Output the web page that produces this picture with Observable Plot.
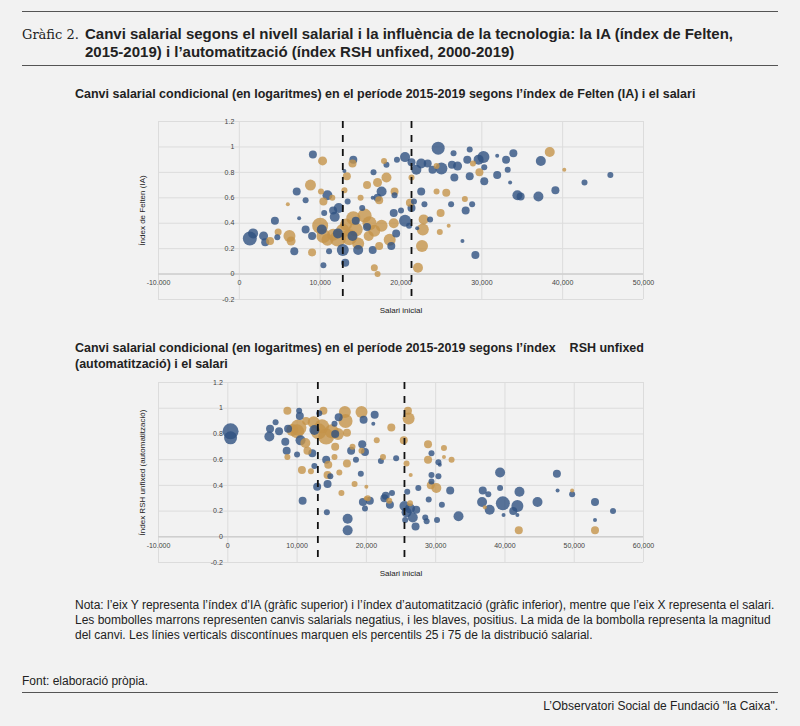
<!DOCTYPE html>
<html><head><meta charset="utf-8">
<script src="https://cdn.jsdelivr.net/npm/d3@7"></script>
<script src="https://cdn.jsdelivr.net/npm/@observablehq/plot@0.6"></script>
<style>
body{margin:0;background:#f2f2f2;font-family:"Liberation Sans",Arial,sans-serif;color:#222;}
#page{position:relative;width:800px;height:726px;}
.abs{position:absolute;}
.rule{position:absolute;left:22px;width:756px;height:0;border-top:1.5px solid #555;}
.sub{font-weight:bold;font-size:12.5px;}
</style></head><body><div id="page">
<div class="rule" style="top:11px"></div>
<div class="abs" style="left:22px;top:27px;font-family:'DejaVu Serif',serif;font-size:13px;">Gràfic 2.</div>
<div class="abs" style="left:85px;top:25px;font-weight:bold;font-size:15px;line-height:18px;width:690px;">Canvi salarial segons el nivell salarial i la influència de la tecnologia: la IA (índex de Felten, 2015-2019) i l’automatització (índex RSH unfixed, 2000-2019)</div>
<div class="rule" style="top:65px"></div>
<div class="abs sub" style="left:75px;top:87px;">Canvi salarial condicional (en logaritmes) en el període 2015-2019 segons l’índex de Felten (IA) i el salari</div>
<div class="abs sub" style="left:75px;top:340px;line-height:16px;width:620px;">Canvi salarial condicional (en logaritmes) en el període 2015-2019 segons l’índex &nbsp;&nbsp;&nbsp;RSH unfixed (automatització) i el salari</div>
<div id="c1" class="abs" style="left:0;top:110px;"></div>
<div id="c2" class="abs" style="left:0;top:371px;"></div>
<div class="abs" style="left:75px;top:598px;font-size:12px;line-height:15px;width:700px;">Nota: l’eix Y representa l’índex d’IA (gràfic superior) i l’índex d’automatització (gràfic inferior), mentre que l’eix X representa el salari. Les bombolles marrons representen canvis salarials negatius, i les blaves, positius. La mida de la bombolla representa la magnitud del canvi. Les línies verticals discontínues marquen els percentils 25 i 75 de la distribució salarial.</div>
<div class="abs" style="left:22px;top:674px;font-size:12px;">Font: elaboració pròpia.</div>
<div class="rule" style="top:692px"></div>
<div class="abs" style="right:22px;top:699px;font-size:12px;">L’Observatori Social de Fundació "la Caixa".</div>
</div>
<script>
// Chart 1: Felten (IA). salary in thousands, index, bubble size, sign (1 positive/blue, -1 negative/gold)
const ia_blue_x=[1.3,1.7,3,3.2,4.4,4.7,6.8,7.1,7.4,8.2,8.2,9,9.1,10.4,10.5,10.9,11.1,11.6,11.8,12.3,12.8,13.1,13.0,13.4,14.1,14.4,14.7,15.2,16.5,16.6,16.5,17.1,17.6,18.2,19.1,19.4,19.2,19.5,20.0,20.5,20.5,21.0,21.3,21.3,21.6,21.9,22,22.5,22.5,22.9,23.3,23.6,23.9,24.6,25.0,26.2,26.3,26.5,26.6,27.0,27.6,28.0,28.2,28.5,28.5,28.8,29.2,29.6,30.2,30.3,30.3,31.9,31.9,33.0,33.2,33.5,33.9,34.4,34.8,37.0,37.3,39.1,42.7,45.9,12.2,14.0,10.2,18.8,15.8];
const ia_blue_y=[0.28,0.32,0.3,0.25,0.42,0.29,0.18,0.65,0.44,0.35,0.58,0.3,0.94,0.07,0.48,0.62,0.18,0.5,0.45,0.52,0.19,0.09,0.81,0.57,0.9,0.42,0.19,0.52,0.19,0.8,0.6,0.6,0.65,0.86,0.48,0.32,0.62,0.9,0.5,0.42,0.92,0.38,0.52,0.88,0.57,0.82,0.36,0.65,0.87,0.55,0.87,0.43,0.82,0.99,0.83,0.55,0.86,0.95,0.76,0.85,0.26,0.5,0.9,0.98,0.77,0.55,0.15,0.9,0.92,0.73,0.84,0.78,0.93,0.9,0.82,0.72,0.95,0.62,0.61,0.61,0.89,0.66,0.72,0.78,0.32,0.3,0.35,0.22,0.37];
const ia_blue_r=[7,5,4.5,4,4,3,4,4,2,4,3,4,4,3,3,5,3,4,5,5,6,4,2,3,4,4,5,3,4,3,2,4,5,3,4,4,3,3,3,6,5,3,4,4,3,5,2,4,5,3,4,3,4,6.5,6,3,4,3,4,4.5,2,4,4,3,4,3,4,5,6,4,3,4,2,4,3,2,4,5,4,5,5,4,3,3,5,5,5,4,4];
const ia_gold_x=[3.8,4.8,6.2,6.4,6.0,8.8,9.0,10.3,10.0,10.4,10.1,10.4,10.9,11.6,12.2,12.8,13.3,13.0,13.6,14.1,14.4,14.0,14.7,15.5,15.8,16.1,16.7,16.7,17.1,17.3,17.3,17.1,17.6,17.9,18.2,18.6,19.2,19.1,21.1,21.3,22.1,22.6,22.7,22.8,24.4,24.4,24.9,24.8,25.6,25.9,27.9,28.9,29.7,38.4,40.2,15,13.2,16.0,11.5];
const ia_gold_y=[0.26,0.33,0.3,0.26,0.55,0.7,0.17,0.89,0.38,0.3,0.65,0.57,0.27,0.31,0.28,0.34,0.77,0.66,0.29,0.44,0.35,0.87,0.24,0.46,0.7,0.4,0.34,0.05,0.0,0.22,0.58,0.72,0.38,0.89,0.76,0.27,0.65,0.4,0.56,0.76,0.05,0.22,0.35,0.43,0.85,0.65,0.48,0.33,0.64,0.38,0.59,0.87,0.8,0.96,0.82,0.6,0.39,0.3,0.6];
const ia_gold_r=[4,3.5,6,4.5,2,5.5,4,4.5,8,7,3,4,6,6,8,7,4,3,8,7,7,4,6,7,4,7,6,3.5,3,4,4,4.5,6,3,5,6,4,5,4,3,5,6,6,5,3,3,4,3,4,2,3,3,4,5,2,3,6,5,3];
// Chart 2: RSH unfixed (automatització)
const rsh_blue_x=[0.4,0.4,6.1,6.0,6.9,7.4,8.3,8.5,8.7,10.3,10.4,10.5,10.8,10.0,12.2,12.5,12.5,12.9,13.2,14.2,14.3,14.4,14.8,15.4,15.5,16.0,17.3,17.3,17.8,18.5,19.2,19.4,19.5,19.8,19.8,19.6,20.5,21.2,22.1,22.6,22.8,23.4,23.7,24.3,25.5,25.8,25.6,25.9,26.3,26.7,27.1,27.2,27.5,28.5,28.7,29.0,29.4,29.4,29.4,30.4,30.4,30.2,30.6,30.9,32.1,33.3,36.8,36.7,37.6,37.8,39.3,39.3,39.8,39.7,41.2,41.8,41.8,42.1,44.7,47.5,47.6,49.7,53.0,53.0,55.6,21.0];
const rsh_blue_y=[0.82,0.77,0.84,0.78,0.89,0.82,0.74,0.67,0.84,0.98,0.94,0.75,0.28,0.64,0.65,0.55,0.83,0.39,0.96,0.6,0.19,0.41,0.47,0.88,0.8,0.93,0.14,0.05,0.67,0.6,0.49,0.72,0.27,0.22,0.66,0.91,0.28,0.95,0.59,0.3,0.32,0.25,0.34,0.61,0.24,0.19,0.13,0.35,0.22,0.15,0.08,0.21,0.38,0.15,0.12,0.29,0.65,0.48,0.43,0.58,0.47,0.13,0.56,0.25,0.36,0.16,0.36,0.27,0.33,0.21,0.5,0.38,0.17,0.26,0.2,0.24,0.17,0.35,0.27,0.49,0.36,0.33,0.27,0.13,0.2,0.88];
const rsh_blue_r=[8,6.5,4,5,3,4,4,4,4,3,4,5,4,3,4,3,5,4,3,4,3,4,3,3,4,4,5,5,4,3,3,4,4,3,4,4,4,4,3,4,4,4,3,3,5,5,3,3,5,5,4,4,3,3,3,3,3,3,3,3,3,3,2,3,4,5,4,5,3,5,5,3,2,7,4,6,2,5,5,4,2,3,4,2,3,2];
const rsh_gold_x=[8.6,8.6,9.3,10.0,10.2,10.7,11.2,11.5,12.4,12.0,13.1,13.6,13.8,14.2,14.4,14.5,15.0,15.4,15.9,16.1,16.4,16.9,17.0,17.2,17.2,18.0,18.3,19.3,19.3,20.0,19.9,20.2,21.5,22.4,23.3,23.6,25.4,26.0,26.1,25.8,26.4,26.3,28.9,28.9,29.3,30.1,31.2,31.2,32.3,42.0,53.0,49.7,37.1,15.5,11.3];
const rsh_gold_y=[0.98,0.62,0.83,0.82,0.85,0.52,0.73,0.67,0.89,0.51,0.82,0.86,0.98,0.78,0.48,0.56,0.82,0.62,0.8,0.5,0.34,0.97,0.9,0.81,0.57,0.7,0.41,0.97,0.67,0.39,0.3,0.3,0.75,0.62,0.28,0.85,0.75,0.98,0.92,0.57,0.48,0.26,0.72,0.6,0.4,0.38,0.69,0.62,0.6,0.05,0.05,0.36,0.23,0.7,0.9];
const rsh_gold_r=[4,3,6,7,8,4,5,4,6,3,8,7,4,8,4,4,7,3,6,3,3,6,7,4,4,3,3,6,3,2,2,3,3,3,3,4,4,4,6,3,2,3,4,4,4,5,3,2,3,4,4,2,2,4,4];
const dashed1=[12.8,21.3], dashed2=[13.0,25.5];
const yTicks=[-0.2,0,0.2,0.4,0.6,0.8,1,1.2];
const xTicks1=[-10,0,10,20,30,40,50], xTicks2=[-10,0,10,20,30,40,50,60];

function rows(xs,ys,rs,sign){return xs.map((x,i)=>({x:x*1000,y:ys[i],r:rs[i],sign}));}
const fmtX=v=>v===-10?"-10.000":v===0?"0":v+",000";
const fmtY=v=>v===0?"0":String(v);

function chart(data,xTicks,xmax,dashed,ylab,H,mt,mb){
  const blue="#2f5181", gold="#c4944a";
  return Plot.plot({
    width:800,height:H,marginLeft:158,marginRight:157,marginTop:mt,marginBottom:mb,
    style:{background:"transparent",fontFamily:"Liberation Sans, Arial, sans-serif",overflow:"visible"},
    x:{domain:[-10000,xmax*1000],axis:null},
    y:{domain:[-0.2,1.2],axis:null},
    r:{type:"identity"},
    marks:[
      Plot.gridX(xTicks.map(d=>d*1000),{stroke:"#dcdcdc",strokeOpacity:1}),
      Plot.gridY(yTicks,{stroke:"#dcdcdc",strokeOpacity:1}),
      Plot.ruleY([0],{stroke:"#cfcfcf",strokeWidth:1.5}),
      Plot.dot(data,{x:"x",y:"y",r:"r",fill:d=>d.sign>0?blue:gold,fillOpacity:0.8,stroke:"none"}),
      Plot.ruleX(dashed.map(d=>d*1000),{stroke:"#111",strokeWidth:1.8,strokeDasharray:"7,7"}),
      Plot.text(yTicks,{x:0,y:d=>d,text:fmtY,textAnchor:"end",dx:-5,fontSize:7,fill:"#444"}),
      Plot.text(xTicks,{x:d=>d*1000,y:0,text:fmtX,dy:9,fontSize:7,fill:"#444"}),
      Plot.text([ylab],{frameAnchor:"left",textAnchor:"middle",rotate:-90,dx:-16,fontSize:8,fill:"#222"}),
      Plot.text(["Salari inicial"],{frameAnchor:"bottom",dy:13,fontSize:8,fill:"#222"})
    ]
  });
}
const d1=[...rows(ia_blue_x,ia_blue_y,ia_blue_r,1),...rows(ia_gold_x,ia_gold_y,ia_gold_r,-1)];
const d2=[...rows(rsh_blue_x,rsh_blue_y,rsh_blue_r,1),...rows(rsh_gold_x,rsh_gold_y,rsh_gold_r,-1)];
document.getElementById("c1").append(chart(d1,xTicks1,50,dashed1,"Índex de Felten (IA)",215,11,26));
document.getElementById("c2").append(chart(d2,xTicks2,60,dashed2,"Índex RSH unfixed (automatització)",215,11,24));
</script></body></html>
